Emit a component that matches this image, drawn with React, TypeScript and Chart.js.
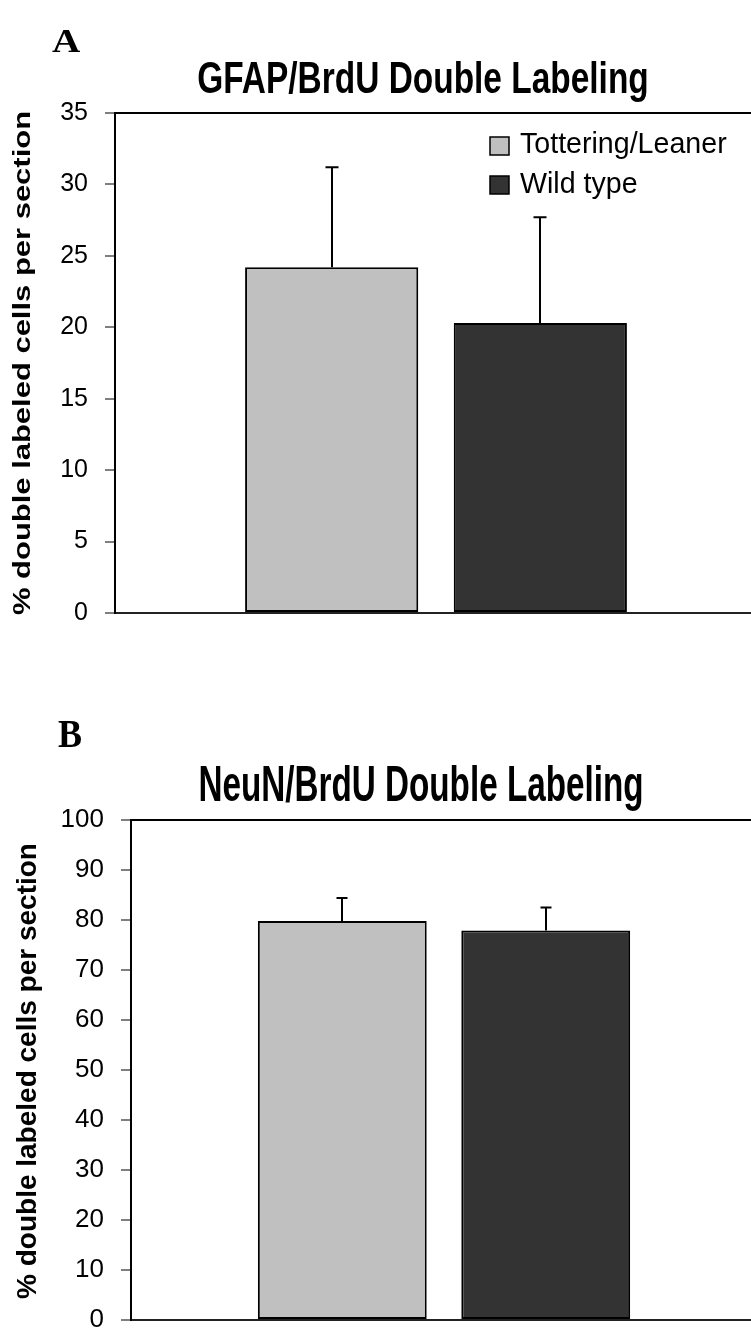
import React, { useEffect, useRef } from "react";
import { Chart, registerables } from "chart.js";

Chart.register(...registerables);

// ---------- data ----------
const categories = [""];
const seriesLabels = ["Tottering/Leaner", "Wild type"];
const seriesColors = ["#c0c0c0", "#333333"];

const gfapTitle = "GFAP/BrdU Double Labeling";
const gfapValues = [24.2, 20.3];
const gfapErrors = [7.0, 7.4];
const gfapTicks = [0, 5, 10, 15, 20, 25, 30, 35];

const neunTitle = "NeuN/BrdU Double Labeling";
const neunValues = [79.8, 77.9];
const neunErrors = [4.6, 4.6];
const neunTicks = [0, 10, 20, 30, 40, 50, 60, 70, 80, 90, 100];

const yAxisTitle = "% double labeled cells per section";

// ---------- layout / style ----------
const SANS = "'Liberation Sans', Arial, Helvetica, sans-serif";
const SERIF = "'Liberation Serif', 'Times New Roman', serif";

type Panel = {
  letter: string;
  title: string;
  values: number[];
  errors: number[];
  ticks: number[];
  showLegend: boolean;
  top: number;
  canvasW: number;
  canvasH: number;
  axisWidth: number;
  padTop: number;
  padBottom: number;
  tickFont: number;
  tickPad: number;
  capWidth: number;
  letterX: number;
  letterY: number;
  letterFont: number;
  letterScale: number;
  titleX: number;
  titleY: number;
  titleFont: number;
  titleScale: number;
  yTitleX: number;
  yTitleY: number;
  yTitleFont: number;
  yTitleScale: number;
};

const panels: Panel[] = [
  {
    letter: "A",
    title: gfapTitle,
    values: gfapValues,
    errors: gfapErrors,
    ticks: gfapTicks,
    showLegend: true,
    top: 0,
    canvasW: 757,
    canvasH: 660,
    axisWidth: 115,
    padTop: 113,
    padBottom: 47,
    tickFont: 25,
    tickPad: 17,
    capWidth: 13,
    letterX: 52,
    letterY: 52,
    letterFont: 34,
    letterScale: 1.15,
    titleX: 423,
    titleY: 93,
    titleFont: 44,
    titleScale: 0.76,
    yTitleX: 30,
    yTitleY: 363,
    yTitleFont: 24,
    yTitleScale: 1.29,
  },
  {
    letter: "B",
    title: neunTitle,
    values: neunValues,
    errors: neunErrors,
    ticks: neunTicks,
    showLegend: false,
    top: 660,
    canvasW: 757,
    canvasH: 700,
    axisWidth: 131,
    padTop: 160,
    padBottom: 40,
    tickFont: 26,
    tickPad: 17,
    capWidth: 11,
    letterX: 58,
    letterY: 87,
    letterFont: 40,
    letterScale: 0.9,
    titleX: 421,
    titleY: 141,
    titleFont: 50,
    titleScale: 0.665,
    yTitleX: 36,
    yTitleY: 411,
    yTitleFont: 28,
    yTitleScale: 1.0,
  },
];

function decorPlugin(p: Panel) {
  return {
    id: "decor" + p.letter,
    afterDatasetsDraw(chart: any) {
      const ctx = chart.ctx;
      const y = chart.scales.y;
      ctx.save();
      ctx.strokeStyle = "#000";
      ctx.lineWidth = 2;
      chart.data.datasets.forEach((ds: any, i: number) => {
        const meta = chart.getDatasetMeta(i);
        meta.data.forEach((bar: any, j: number) => {
          const v = ds.data[j];
          const e = ds.errors[j];
          const yTop = y.getPixelForValue(v + e);
          const x = Math.round(bar.x);
          ctx.beginPath();
          ctx.moveTo(x, bar.y);
          ctx.lineTo(x, yTop);
          ctx.moveTo(x - p.capWidth / 2, yTop);
          ctx.lineTo(x + p.capWidth / 2, yTop);
          ctx.stroke();
        });
      });
      ctx.restore();
    },
    afterDraw(chart: any) {
      const ctx = chart.ctx;
      ctx.save();
      ctx.fillStyle = "#000";
      ctx.textBaseline = "alphabetic";

      // panel letter
      ctx.save();
      ctx.translate(p.letterX, p.letterY);
      ctx.scale(p.letterScale, 1);
      ctx.font = `bold ${p.letterFont}px ${SERIF}`;
      ctx.textAlign = "left";
      ctx.fillText(p.letter, 0, 0);
      ctx.restore();

      // chart title (condensed)
      ctx.save();
      ctx.translate(p.titleX, p.titleY);
      ctx.scale(p.titleScale, 1);
      ctx.font = `bold ${p.titleFont}px ${SANS}`;
      ctx.textAlign = "center";
      ctx.fillText(p.title, 0, 0);
      ctx.restore();

      // y axis title
      ctx.save();
      ctx.translate(p.yTitleX, p.yTitleY);
      ctx.rotate(-Math.PI / 2);
      ctx.scale(p.yTitleScale, 1);
      ctx.font = `bold ${p.yTitleFont}px ${SANS}`;
      ctx.textAlign = "center";
      ctx.fillText(yAxisTitle, 0, 0);
      ctx.restore();

      // legend
      if (p.showLegend) {
        const rows = [
          { boxY: 137, textY: 153 },
          { boxY: 176, textY: 193 },
        ];
        chart.data.datasets.forEach((ds: any, i: number) => {
          const r = rows[i];
          ctx.fillStyle = ds.backgroundColor;
          ctx.fillRect(490, r.boxY, 19, 18);
          ctx.strokeStyle = "#000";
          ctx.lineWidth = 1.5;
          ctx.strokeRect(490, r.boxY, 19, 18);
          ctx.fillStyle = "#000";
          ctx.font = `28.6px ${SANS}`;
          ctx.textAlign = "left";
          ctx.fillText(ds.label, 520, r.textY);
        });
      }
      ctx.restore();
    },
  };
}

function makeConfig(p: Panel): any {
  const min = p.ticks[0];
  const max = p.ticks[p.ticks.length - 1];
  return {
    type: "bar",
    data: {
      labels: categories,
      datasets: seriesLabels.map((label, i) => ({
        label,
        data: [p.values[i]],
        errors: [p.errors[i]],
        backgroundColor: seriesColors[i],
        borderColor: "#000",
        borderWidth: 2,
        borderSkipped: false,
        categoryPercentage: 0.65,
        barPercentage: 0.83,
      })),
    },
    options: {
      responsive: false,
      maintainAspectRatio: false,
      animation: false,
      devicePixelRatio: 1,
      layout: { padding: { left: 0, right: 0, top: p.padTop, bottom: p.padBottom } },
      plugins: {
        legend: { display: false },
        title: { display: false },
        tooltip: { enabled: false },
      },
      scales: {
        x: {
          display: true,
          ticks: { display: false },
          grid: { display: false },
          border: { display: true, color: "#222", width: 2 },
          afterFit: (s: any) => {
            s.height = 0;
            s.paddingTop = 0;
            s.paddingBottom = 0;
          },
        },
        y: {
          min,
          max,
          afterBuildTicks: (s: any) => {
            s.ticks = p.ticks.map((v) => ({ value: v }));
          },
          ticks: {
            font: { family: SANS, size: p.tickFont },
            color: "#000",
            padding: p.tickPad,
          },
          grid: {
            drawOnChartArea: true,
            drawTicks: true,
            color: (c: any) => (c.tick && c.tick.value === max ? "#000" : "rgba(0,0,0,0)"),
            lineWidth: 2,
            tickColor: "#555",
            tickLength: 10,
            tickWidth: 1.5,
          },
          border: { display: true, color: "#000", width: 2 },
          afterFit: (s: any) => {
            s.width = p.axisWidth;
            s.paddingTop = 0;
            s.paddingBottom = 0;
          },
        },
      },
    },
    plugins: [decorPlugin(p)],
  };
}

function PanelChart({ p }: { p: Panel }) {
  const ref = useRef<HTMLCanvasElement | null>(null);
  useEffect(() => {
    if (!ref.current) return;
    const chart = new Chart(ref.current, makeConfig(p));
    return () => chart.destroy();
  }, [p]);
  return (
    <canvas
      ref={ref}
      width={p.canvasW}
      height={p.canvasH}
      style={{
        position: "absolute",
        left: 0,
        top: p.top,
        width: p.canvasW,
        height: p.canvasH,
        display: "block",
      }}
    />
  );
}

export default function App() {
  return (
    <div
      style={{
        position: "absolute",
        left: 0,
        top: 0,
        width: 751,
        height: 1329,
        overflow: "hidden",
        background: "#fff",
      }}
    >
      {panels.map((p) => (
        <PanelChart key={p.letter} p={p} />
      ))}
    </div>
  );
}
